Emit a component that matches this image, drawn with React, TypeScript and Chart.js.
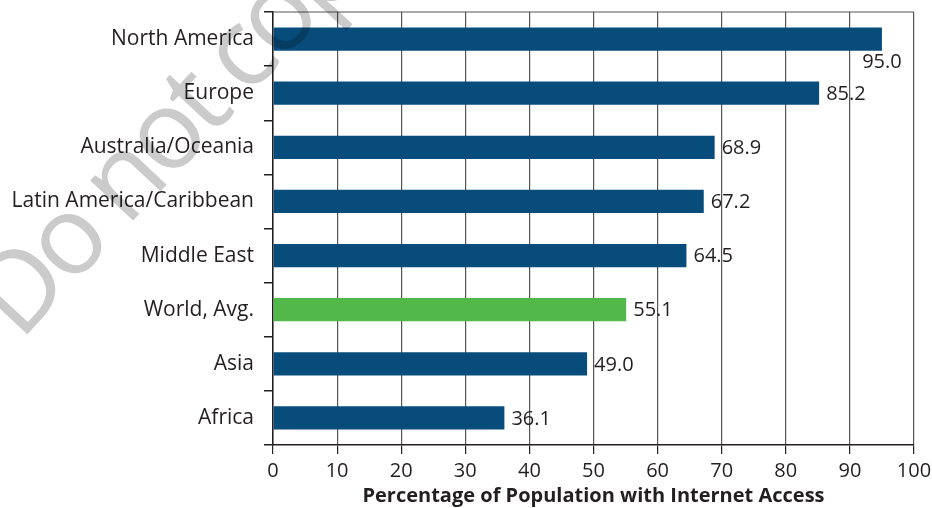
import React, { useEffect, useRef } from "react";
import { Chart, registerables } from "chart.js";

Chart.register(...registerables);

const categories = [
  "North America",
  "Europe",
  "Australia/Oceania",
  "Latin America/Caribbean",
  "Middle East",
  "World, Avg.",
  "Asia",
  "Africa",
];
const values = [95.0, 85.2, 68.9, 67.2, 64.5, 55.1, 49.0, 36.1];
const highlightCategory = "World, Avg.";
const xTickValues = [0, 10, 20, 30, 40, 50, 60, 70, 80, 90, 100];
const axisTitle = "Percentage of Population with Internet Access";
const watermarkText = "Do not copy";

const BLUE = "#084c7c";
const GREEN = "#52b84a";
const TEXT = "#231f20";
const FONT = "'Open Sans', 'Noto Sans', sans-serif";

const valueLabelPlugin = {
  id: "valueLabels",
  afterDatasetsDraw(chart: any) {
    const ctx = chart.ctx;
    const meta = chart.getDatasetMeta(0);
    const area = chart.chartArea;
    ctx.save();
    ctx.font = `20px ${FONT}`;
    ctx.fillStyle = TEXT;
    ctx.textBaseline = "middle";
    meta.data.forEach((bar: any, i: number) => {
      const text = values[i].toFixed(1);
      const w = ctx.measureText(text).width;
      const x = bar.x;
      const y = bar.y;
      if (x + 7 + w > area.right - 2) {
        ctx.textAlign = "center";
        ctx.fillText(text, x, y + bar.height / 2 + 12);
      } else {
        ctx.textAlign = "left";
        ctx.fillText(text, x + 7, y + 1);
      }
    });
    ctx.restore();
  },
};

const framePlugin = {
  id: "frame",
  afterDraw(chart: any) {
    const ctx = chart.ctx;
    const a = chart.chartArea;
    ctx.save();
    ctx.strokeStyle = "#555";
    ctx.lineWidth = 1.2;
    ctx.beginPath();
    ctx.moveTo(a.left, a.top);
    ctx.lineTo(a.right, a.top);
    ctx.stroke();
    ctx.restore();
  },
};

const watermarkPlugin = {
  id: "watermark",
  afterDraw(chart: any) {
    const ctx = chart.ctx;
    ctx.save();
    ctx.globalCompositeOperation = "multiply";
    ctx.translate(20, 342);
    ctx.rotate(-0.82);
    ctx.font = `110px ${FONT}`;
    try {
      (ctx as any).letterSpacing = "-6px";
    } catch (e) {}
    ctx.fillStyle = "#cbcbcb";
    ctx.textAlign = "left";
    ctx.textBaseline = "alphabetic";
    ctx.fillText(watermarkText, 0, 0);
    ctx.restore();
  },
};

export default function App() {
  const canvasRef = useRef<HTMLCanvasElement | null>(null);

  useEffect(() => {
    document.body.style.margin = "0";
    const canvas = canvasRef.current;
    if (!canvas) return;
    const chart = new Chart(canvas, {
      type: "bar",
      data: {
        labels: categories,
        datasets: [
          {
            data: values,
            backgroundColor: categories.map((c) => (c === highlightCategory ? GREEN : BLUE)),
            borderWidth: 0,
            barPercentage: 0.43,
            categoryPercentage: 1,
          },
        ],
      },
      options: {
        indexAxis: "y",
        animation: false,
        responsive: true,
        maintainAspectRatio: false,
        layout: { padding: { top: 12, right: 18, left: 0, bottom: 0 } },
        plugins: {
          legend: { display: false },
          tooltip: { enabled: false },
        },
        scales: {
          x: {
            type: "linear",
            min: 0,
            max: 100,
            afterBuildTicks(scale: any) {
              scale.ticks = xTickValues.map((v) => ({ value: v }));
            },
            afterFit(scale: any) {
              scale.height = 63;
              scale.paddingLeft = 0;
              scale.paddingRight = 0;
            },
            grid: {
              color: "#555",
              lineWidth: 1.2,
              tickColor: TEXT,
              tickLength: 9,
              drawTicks: true,
            },
            border: { display: true, color: TEXT, width: 1.5 },
            ticks: {
              color: TEXT,
              font: { family: FONT, size: 20 },
              padding: 5,
              maxRotation: 0,
            },
            title: {
              display: true,
              text: axisTitle,
              color: TEXT,
              font: { family: FONT, size: 20, weight: "bold" },
              padding: { top: 0, bottom: 0 },
            },
          },
          y: {
            type: "category",
            afterFit(scale: any) {
              scale.width = 273;
              scale.paddingTop = 0;
              scale.paddingBottom = 0;
            },
            grid: {
              offset: true,
              drawOnChartArea: false,
              drawTicks: true,
              tickLength: 9,
              color: TEXT,
              lineWidth: 1.5,
            },
            border: { display: true, color: TEXT, width: 1.5 },
            ticks: {
              color: TEXT,
              font: { family: FONT, size: 21 },
              padding: 10,
              autoSkip: false,
            },
          },
        },
      },
      plugins: [valueLabelPlugin, framePlugin, watermarkPlugin],
    } as any);
    return () => chart.destroy();
  }, []);

  return (
    <div style={{ width: 932, height: 508, position: "relative" }}>
      <canvas ref={canvasRef} />
    </div>
  );
}
